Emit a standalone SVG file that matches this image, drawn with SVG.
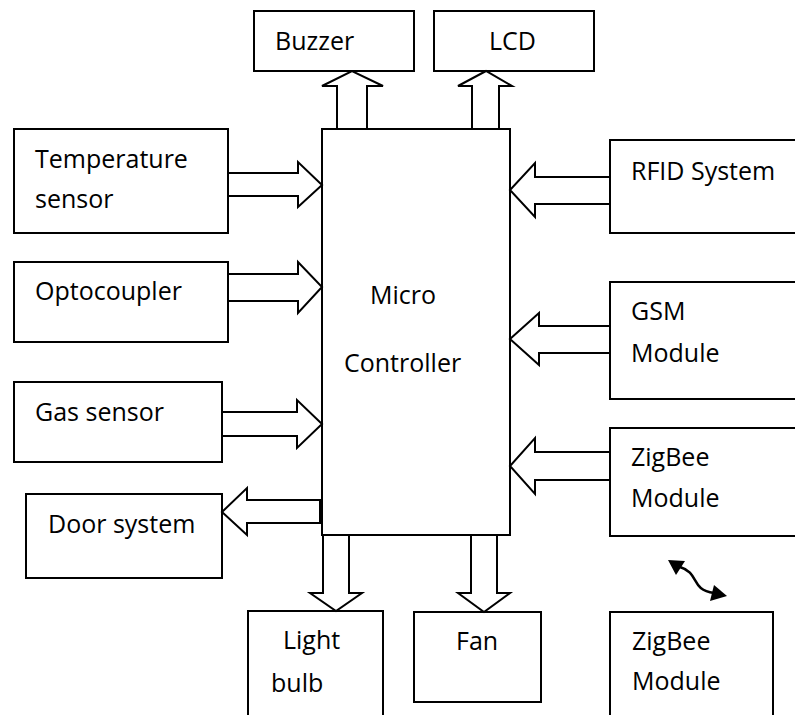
<svg xmlns="http://www.w3.org/2000/svg" width="795" height="715" viewBox="0 0 795 715">
<style>
.box{fill:#fff;stroke:#000;stroke-width:2}
.arr{fill:#fff;stroke:#000;stroke-width:2;stroke-linejoin:miter}
.t{font-family:"Open Sans","Noto Sans","DejaVu Sans",sans-serif;font-size:25px;fill:#000}
</style>
<rect width="795" height="715" fill="#fff"/>
<g id="buzzer"><rect class="box" x="254" y="11" width="160" height="60"/><text class="t" x="275" y="50">Buzzer</text></g>
<g id="lcd"><rect class="box" x="434" y="11" width="160" height="60"/><text class="t" x="489" y="50">LCD</text></g>
<g id="micro"><rect class="box" x="322" y="129" width="188" height="406"/><text class="t" x="370" y="304">Micro</text><text class="t" x="344" y="372">Controller</text></g>
<g id="temperature"><rect class="box" x="14" y="129" width="214" height="104"/><text class="t" x="35" y="168">Temperature</text><text class="t" x="35" y="208">sensor</text></g>
<g id="optocoupler"><rect class="box" x="14" y="262" width="214" height="80"/><text class="t" x="35" y="300">Optocoupler</text></g>
<g id="gas"><rect class="box" x="14" y="382" width="208" height="80"/><text class="t" x="35" y="421">Gas sensor</text></g>
<g id="door"><rect class="box" x="26" y="494" width="196" height="84"/><text class="t" x="48" y="533">Door system</text></g>
<g id="rfid"><rect class="box" x="610" y="140" width="200" height="93"/><text class="t" x="631" y="180">RFID System</text></g>
<g id="gsm"><rect class="box" x="610" y="282" width="200" height="117"/><text class="t" x="631" y="320">GSM</text><text class="t" x="631" y="362">Module</text></g>
<g id="zigbee1"><rect class="box" x="610" y="428" width="200" height="108"/><text class="t" x="631" y="466">ZigBee</text><text class="t" x="631" y="507">Module</text></g>
<g id="lightbulb"><rect class="box" x="248" y="611" width="135" height="120"/><text class="t" x="283" y="649">Light</text><text class="t" x="271" y="692">bulb</text></g>
<g id="fan"><rect class="box" x="414" y="612" width="127" height="90"/><text class="t" x="456" y="650">Fan</text></g>
<g id="zigbee2"><rect class="box" x="610" y="612" width="163" height="120"/><text class="t" x="632" y="650">ZigBee</text><text class="t" x="632" y="690">Module</text></g>
<g id="connectors">
<polygon class="arr" points="337,129 337,86 322,86 352,71 383,86 367,86 367,129"/>
<polygon class="arr" points="472,129 472,86 458,86 486,71 512,86 499,86 499,129"/>
<polygon class="arr" points="228,173 298,173 298,162 322,185 298,207 298,196 228,196"/>
<polygon class="arr" points="228,274 298,274 298,262 322,287 298,313 298,301 228,301"/>
<polygon class="arr" points="222,412 297,412 297,400 322,424 297,448 297,436 222,436"/>
<polygon class="arr" points="320,500 247,500 247,488 222,512 247,535 247,523 320,523"/>
<polygon class="arr" points="610,177 535,177 535,163 510,190 535,217 535,204 610,204"/>
<polygon class="arr" points="610,326 539,326 539,313 510,339 539,365 539,353 610,353"/>
<polygon class="arr" points="610,452 535,452 535,438 510,466 535,494 535,480 610,480"/>
<polygon class="arr" points="323,535 323,593 310,593 336,611 362,593 349,593 349,535"/>
<polygon class="arr" points="471,535 471,593 458,593 484,612 510,593 497,593 497,535"/>
<path d="M680,567 C700,573 690,590 714,593" fill="none" stroke="#000" stroke-width="2.5"/>
<polygon points="668,560 685,561 676,575" fill="#000"/>
<polygon points="727,596 710,601 714,585" fill="#000"/>
</g>
</svg>
